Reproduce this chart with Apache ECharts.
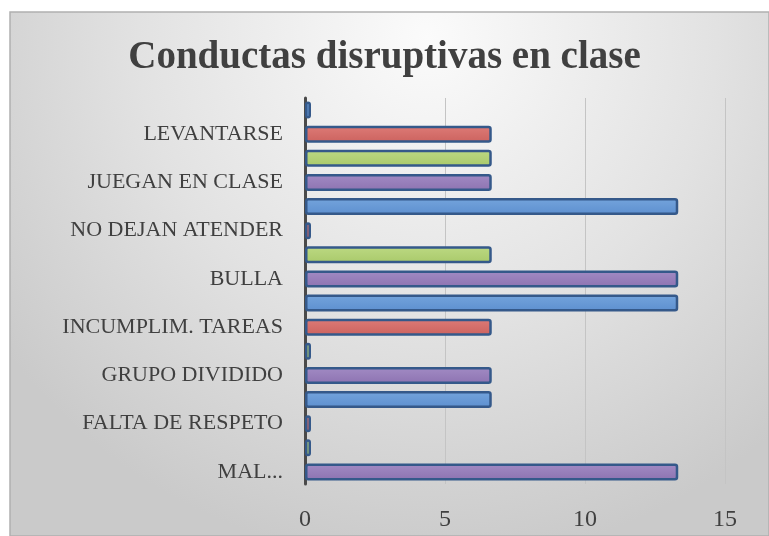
<!DOCTYPE html>
<html>
<head>
<meta charset="utf-8">
<script src="https://cdn.jsdelivr.net/npm/echarts@6/dist/echarts.min.js"></script>
<style>html,body{margin:0;padding:0;background:#fff}#c{width:769px;height:536px}</style>
</head>
<body>
<div id="c"></div>
<script>
// Categories from bottom to top (unlabelled ones were skipped by the original axis)
const categories = ["MAL...", "", "FALTA DE RESPETO", "", "GRUPO DIVIDIDO", "", "INCUMPLIM. TAREAS", "", "BULLA", "", "NO DEJAN ATENDER", "", "JUEGAN EN CLASE", "", "LEVANTARSE", ""];
const values = [13.33, 0, 0, 6.67, 6.67, 0, 6.67, 13.33, 13.33, 6.67, 0, 13.33, 6.67, 6.67, 6.67, 0];
const xTicks = [0, 5, 10, 15];
const palette = [
  ["#a28bc4", "#8d73b1"], // purple
  ["#bcd983", "#a9c96a"], // green
  ["#dd7b77", "#cc625e"], // red
  ["#74a4dc", "#5d8fcf"]  // blue
];

const chart = echarts.init(document.getElementById('c'), null, {renderer: 'canvas'});
const serif = "'Liberation Serif', 'DejaVu Serif', serif";
chart.setOption({
  backgroundColor: '#ffffff',
  graphic: [{
    type: 'rect', z: -10, silent: true,
    shape: {x: 10, y: 12, width: 759, height: 524},
    style: {
      fill: new echarts.graphic.RadialGradient(0.55, 0.05, 1.0, [
        {offset: 0, color: '#fbfbfb'},
        {offset: 0.55, color: '#e2e2e2'},
        {offset: 1, color: '#cacaca'}
      ]),
      stroke: '#b0b0b0', lineWidth: 1.5
    }
  }],
  title: {
    text: 'Conductas disruptivas en clase',
    left: 'center', top: 33,
    textStyle: {fontFamily: serif, fontWeight: 'bold', fontSize: 39, color: '#404040'}
  },
  grid: {left: 305, right: 44, top: 98, bottom: 52, containLabel: false},
  xAxis: {
    type: 'value', min: 0, max: 15, interval: 5,
    axisLine: {show: false}, axisTick: {show: false},
    splitLine: {show: true, lineStyle: {color: '#c4c4c4', width: 1}},
    axisLabel: {
      margin: 24, fontFamily: serif, fontSize: 24, color: '#404040',
      formatter: v => xTicks.includes(v) ? String(v) : ''
    }
  },
  yAxis: {
    type: 'category', data: categories,
    axisLine: {show: true, lineStyle: {color: '#4a4a4a', width: 3}},
    axisTick: {show: false},
    axisLabel: {interval: 0, margin: 22, fontFamily: serif, fontSize: 22, color: '#404040'}
  },
  series: [{
    type: 'bar',
    data: values.map((v, i) => ({
      value: v,
      itemStyle: {
        color: new echarts.graphic.LinearGradient(0, 0, 0, 1, [
          {offset: 0, color: palette[i % 4][0]},
          {offset: 1, color: palette[i % 4][1]}
        ])
      }
    })),
    barWidth: 17,
    barMinHeight: 6,
    itemStyle: {borderColor: '#35598a', borderWidth: 2.5, borderRadius: 2},
    animation: false
  }]
});
</script>
</body>
</html>
